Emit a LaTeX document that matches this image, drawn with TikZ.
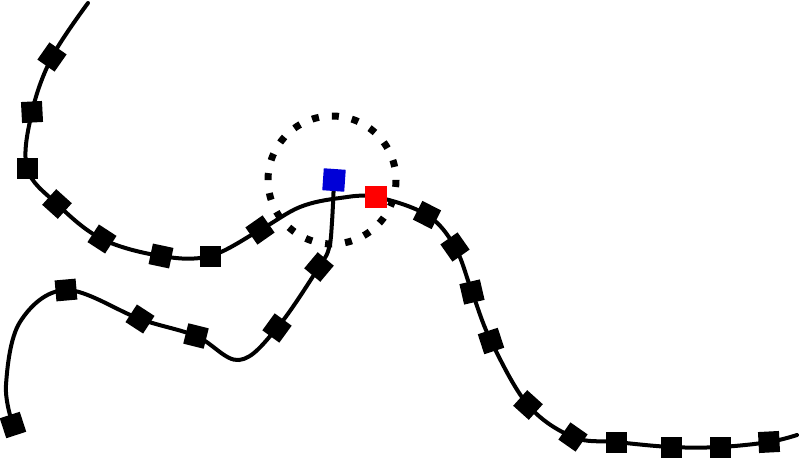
\documentclass[tikz,border=0pt]{standalone}
\begin{document}
\begin{tikzpicture}[x=1pt,y=-1pt,
  curve/.style={line width=4pt, line cap=round},
  mk/.style={rectangle, fill=black, minimum size=21pt, inner sep=0pt, outer sep=0pt},
  bluemk/.style={rectangle, fill={rgb,255:red,0;green,0;blue,215}, minimum size=22pt, inner sep=0pt},
  redmk/.style={rectangle, fill={rgb,255:red,255;green,0;blue,0}, minimum size=22pt, inner sep=0pt},
  ring/.style={line width=7pt, dash pattern=on 7pt off 13.1pt}]
\useasboundingbox (0,0) rectangle (800,458);
% dotted circle
\node[circle, minimum size=128pt, inner sep=0pt] (zone) at (332,180) {};
\draw[ring] (zone.center) circle (64);
% curve 1
\draw[curve] plot[smooth, tension=0.6] coordinates {(88,3) (52,57) (32,112) (27,168) (57,204) (102,239) (161,256) (210,256) (260,230) (300,207) (340,198) (376,197) (427,215) (455,247) (472,292) (491,341) (528,405) (573,437) (616,442) (671,447) (720,447) (769,442) (797,435)};
% curve 2
\draw[curve] plot[smooth, tension=0.6] coordinates {(13,425) (6,385) (20,322) (66,290) (140,319) (196,336) (239,360) (277,328) (319,267) (329,248) (332,222) (334,180)};
% markers curve 1
\node[mk, rotate=55] (a1) at (52,57) {};
\node[mk, rotate=3] (a2) at (32,112) {};
\node[mk, rotate=0] (a3) at (27,168) {};
\node[mk, rotate=48] (a4) at (57,204) {};
\node[mk, rotate=-33] (a5) at (102,239) {};
\node[mk, rotate=-12] (a6) at (161,256) {};
\node[mk, rotate=0] (a7) at (210,256) {};
\node[mk, rotate=35] (a8) at (260,230) {};
\node[redmk] (red) at (376,197) {};
\node[mk, rotate=-27] (a9) at (427,215) {};
\node[mk, rotate=35] (a10) at (455,247) {};
\node[mk, rotate=13] (a11) at (472,292) {};
\node[mk, rotate=18] (a12) at (491,341) {};
\node[mk, rotate=48] (a13) at (528,405) {};
\node[mk, rotate=-35] (a14) at (573,437) {};
\node[mk, rotate=0] (a15) at (616,442) {};
\node[mk, rotate=0] (a16) at (671,447) {};
\node[mk, rotate=0] (a17) at (720,447) {};
\node[mk, rotate=3] (a18) at (769,442) {};
% markers curve 2
\node[mk, rotate=18] (b1) at (13,425) {};
\node[mk, rotate=5] (b2) at (66,290) {};
\node[mk, rotate=-33] (b3) at (140,319) {};
\node[mk, rotate=-14] (b4) at (196,336) {};
\node[mk, rotate=54] (b5) at (277,328) {};
\node[mk, rotate=50] (b6) at (319,267) {};
\node[bluemk, rotate=-4] (blue) at (334,180) {};
\end{tikzpicture}
\end{document}
